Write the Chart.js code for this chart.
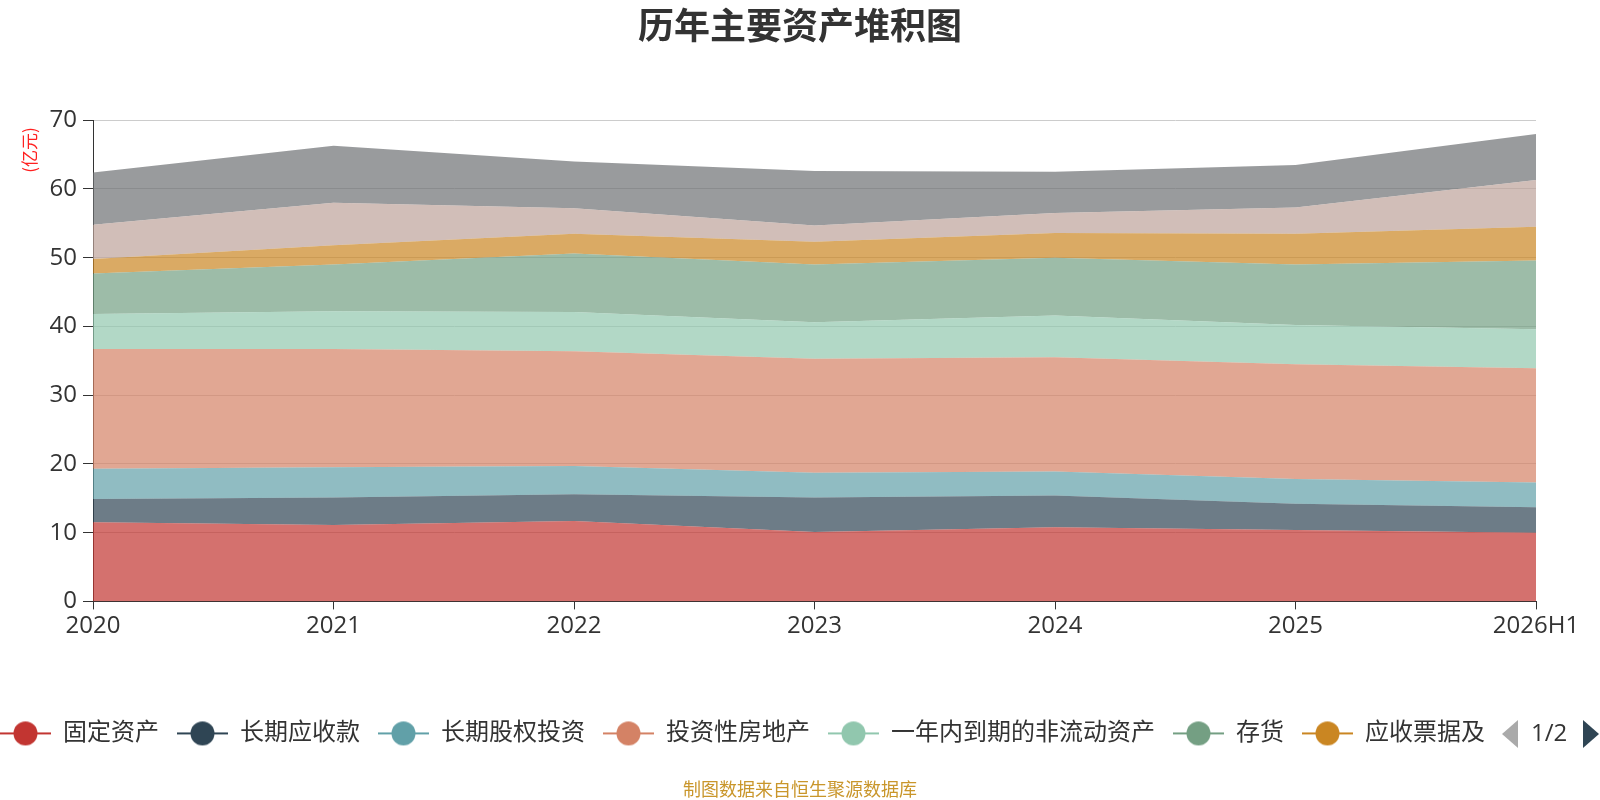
<!DOCTYPE html>
<html>
<head>
<meta charset="utf-8">
<script src="https://cdn.jsdelivr.net/npm/chart.js@4.4.1/dist/chart.umd.min.js"></script>
<style>
  html, body { margin: 0; padding: 0; background: #fff; }
  #wrap { width: 1600px; height: 800px; position: relative; }
</style>
</head>
<body>
<div id="wrap"><canvas id="c" width="1600" height="800"></canvas></div>
<script>
const categories = ['2020', '2021', '2022', '2023', '2024', '2025', '2026H1'];
const seriesNames = ['固定资产', '长期应收款', '长期股权投资', '投资性房地产', '一年内到期的非流动资产', '存货', '应收票据及应收账款', '无形资产', '货币资金'];
const legendTexts = ['固定资产', '长期应收款', '长期股权投资', '投资性房地产', '一年内到期的非流动资产', '存货', '应收票据及'];
const fixedAssets      = [11.5, 11.1, 11.7, 10.1, 10.8, 10.4, 10.0];
const longReceivables  = [3.4, 4.0, 3.9, 5.0, 4.6, 3.8, 3.7];
const longEquityInv    = [4.4, 4.4, 4.1, 3.6, 3.5, 3.6, 3.6];
const investProperty   = [17.4, 17.2, 16.7, 16.6, 16.6, 16.7, 16.6];
const currentNonCur    = [5.1, 5.5, 5.7, 5.3, 6.1, 5.7, 5.7];
const inventory        = [5.9, 6.8, 8.5, 8.4, 8.4, 8.8, 10.0];
const notesReceivable  = [2.1, 2.8, 2.9, 3.3, 3.6, 4.5, 4.9];
const intangibleAssets = [5.0, 6.2, 3.7, 2.4, 2.9, 3.8, 6.8];
const cashFunds        = [7.6, 8.3, 6.8, 7.9, 6.0, 6.2, 6.7];
const seriesValues = [fixedAssets, longReceivables, longEquityInv, investProperty, currentNonCur, inventory, notesReceivable, intangibleAssets, cashFunds];
const colors = ['#c23531', '#2f4554', '#61a0a8', '#d48265', '#91c7ae', '#749f83', '#ca8622', '#bda29a', '#6e7074'];
const yTicks = [0, 10, 20, 30, 40, 50, 60, 70];

function hexToRgba(hex, a) {
  const n = parseInt(hex.slice(1), 16);
  return `rgba(${(n >> 16) & 255},${(n >> 8) & 255},${n & 255},${a})`;
}

function makeIcon(color) {
  const cv = document.createElement('canvas');
  cv.width = 51; cv.height = 26;
  const g = cv.getContext('2d');
  g.strokeStyle = color; g.lineWidth = 2;
  g.beginPath(); g.moveTo(0, 13); g.lineTo(51, 13); g.stroke();
  g.fillStyle = color;
  g.beginPath(); g.arc(25.5, 13, 12, 0, Math.PI * 2); g.fill();
  return cv;
}
const icons = colors.map(makeIcon);

const FONT = '"Open Sans", "Noto Sans CJK SC", sans-serif';

const datasets = seriesNames.map((name, i) => ({
  label: name,
  data: seriesValues[i],
  backgroundColor: hexToRgba(colors[i], 0.7),
  borderColor: 'rgba(0,0,0,0)',
  borderWidth: 0,
  pointRadius: 0,
  pointHoverRadius: 0,
  tension: 0,
  fill: i === 0 ? 'origin' : '-1'
}));

const extras = {
  id: 'extras',
  beforeDraw(chart) {
    chart.legend.left = -18;
  },
  afterDraw(chart) {
    const ctx = chart.ctx;
    ctx.save();
    ctx.translate(30, 150);
    ctx.rotate(-Math.PI / 2);
    ctx.fillStyle = '#ff2020';
    ctx.font = '17px "Noto Sans CJK SC", sans-serif';
    ctx.textAlign = 'center';
    ctx.textBaseline = 'middle';
    ctx.fillText('(亿元)', 0, 0);
    ctx.restore();

    ctx.save();
    const cy = 734;
    ctx.fillStyle = '#aaaaaa';
    ctx.beginPath(); ctx.moveTo(1502, cy); ctx.lineTo(1518, cy - 14); ctx.lineTo(1518, cy + 14); ctx.closePath(); ctx.fill();
    ctx.fillStyle = '#333';
    ctx.font = '24px ' + FONT;
    ctx.textAlign = 'left';
    ctx.textBaseline = 'middle';
    ctx.fillText('1/2', 1531, cy);
    ctx.fillStyle = '#2f4554';
    ctx.beginPath(); ctx.moveTo(1583, cy - 14); ctx.lineTo(1599, cy); ctx.lineTo(1583, cy + 14); ctx.closePath(); ctx.fill();
    ctx.restore();
  }
};

new Chart(document.getElementById('c'), {
  type: 'line',
  data: { labels: categories, datasets },
  options: {
    responsive: false,
    animation: false,
    events: [],
    layout: { padding: 0 },
    plugins: {
      title: {
        display: true,
        text: '历年主要资产堆积图',
        color: '#333',
        font: { family: '"Noto Sans CJK SC", sans-serif', size: 36, weight: 'bold' },
        padding: { top: 4, bottom: 73 }
      },
      subtitle: {
        display: true,
        position: 'bottom',
        text: '制图数据来自恒生聚源数据库',
        color: '#c9962b',
        font: { family: '"Noto Sans CJK SC", sans-serif', size: 18 },
        padding: { top: 23, bottom: 0 }
      },
      legend: {
        position: 'bottom',
        align: 'start',
        labels: {
          usePointStyle: true,
          pointStyleWidth: 51,
          padding: 18,
          color: '#333',
          font: { family: FONT, size: 24 },
          generateLabels(chart) {
            return legendTexts.map((t, i) => ({
              text: t,
              pointStyle: icons[i],
              fillStyle: colors[i],
              strokeStyle: colors[i],
              lineWidth: 0,
              hidden: !chart.isDatasetVisible(i),
              datasetIndex: i,
              fontColor: '#333'
            }));
          }
        }
      },
      tooltip: { enabled: false }
    },
    scales: {
      x: {
        offset: false,
        grid: { drawOnChartArea: false, drawTicks: true, tickLength: 8, tickColor: '#333' },
        border: { display: true, color: '#333', width: 1 },
        ticks: { color: '#333', font: { family: FONT, size: 24 }, padding: 2, maxRotation: 0, autoSkip: false },
        afterFit(axis) { axis.height = 102; }
      },
      y: {
        stacked: true,
        min: 0,
        max: 70,
        grid: { color: '#cccccc', lineWidth: 1, drawTicks: true, tickLength: 10, tickColor: '#333' },
        border: { display: true, color: '#333', width: 1 },
        ticks: {
          stepSize: 10,
          color: '#333',
          padding: 6,
          font: { family: FONT, size: 24 },
          callback: (v) => (yTicks.includes(v) ? String(v) : '')
        },
        afterFit(axis) { axis.width = 93; }
      },
      yRight: {
        position: 'right',
        display: true,
        min: 0,
        max: 70,
        grid: { drawOnChartArea: false, drawTicks: false },
        border: { display: false },
        ticks: { display: false },
        afterFit(axis) { axis.width = 64; }
      }
    }
  },
  plugins: [extras]
});
</script>
</body>
</html>
